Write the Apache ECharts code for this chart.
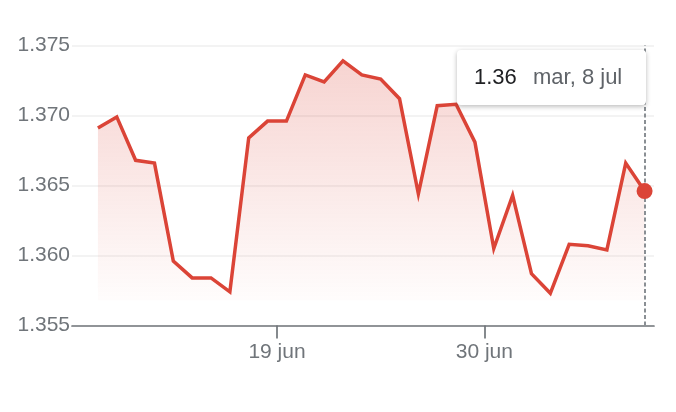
<!DOCTYPE html>
<html>
<head>
<meta charset="utf-8">
<script src="https://cdn.jsdelivr.net/npm/echarts@6/dist/echarts.min.js"></script>
<style>
html,body{margin:0;padding:0;background:#fff;}
#chart{width:676px;height:412px;}
</style>
</head>
<body>
<div id="chart"></div>
<script>
// ---- data ----
var dates = [
  '2025-06-09','2025-06-10','2025-06-11','2025-06-12','2025-06-13','2025-06-14','2025-06-15',
  '2025-06-16','2025-06-17','2025-06-18','2025-06-19','2025-06-20','2025-06-21','2025-06-22',
  '2025-06-23','2025-06-24','2025-06-25','2025-06-26','2025-06-27','2025-06-28','2025-06-29',
  '2025-06-30','2025-07-01','2025-07-02','2025-07-03','2025-07-04','2025-07-05','2025-07-06',
  '2025-07-07','2025-07-08'
];
var values = [
  1.3691, 1.3699, 1.3668, 1.3666, 1.3596, 1.3584, 1.3584,
  1.3574, 1.3684, 1.3696, 1.3696, 1.3729, 1.3724, 1.3739,
  1.3729, 1.3726, 1.3712, 1.3644, 1.3707, 1.3708, 1.3681,
  1.3605, 1.3643, 1.3587, 1.3573, 1.3608, 1.3607, 1.3604,
  1.3666, 1.3646
];
var xTickDates = ['2025-06-19', '2025-06-30'];
var yTicks = [1.355, 1.360, 1.365, 1.370, 1.375];
var monthNames = ['ene','feb','mar','abr','may','jun','jul','ago','sep','oct','nov','dic'];
var dayNames = ['dom','lun','mar','mié','jue','vie','sáb'];

// ---- helpers ----
function dayStart(s){ var p = s.split('-'); return Date.UTC(+p[0], +p[1]-1, +p[2]); }
function pointTime(s){ return dayStart(s) + 12*3600*1000; }
var seriesData = dates.map(function(d, i){ return [pointTime(d), values[i]]; });
var lastIdx = dates.length - 1;
var lastPoint = seriesData[lastIdx];
var lastDate = new Date(dayStart(dates[lastIdx]));
var tipValue = values[lastIdx].toFixed(2);
var tipDate = dayNames[lastDate.getUTCDay()] + ', ' + lastDate.getUTCDate() + ' ' + monthNames[lastDate.getUTCMonth()];

var RED = '#db4437';
var AXIS = '#70757a';
var FONT = '"Liberation Sans", Arial, Helvetica, sans-serif';

var chart = echarts.init(document.getElementById('chart'), null, {renderer: 'canvas'});
chart.setOption({
  animation: false,
  grid: {left: 72, right: 22, top: 45.5, bottom: 86.5, containLabel: false},
  xAxis: {
    type: 'value',
    min: Date.UTC(2025, 5, 8, 3),
    max: Date.UTC(2025, 6, 9, 0),
    axisLine: {show: true, lineStyle: {color: AXIS, width: 1.7}},
    axisTick: {show: true, length: 13, lineStyle: {color: AXIS, width: 1.7},
      customValues: xTickDates.map(dayStart)},
    axisLabel: {
      show: true, margin: 16, fontSize: 21, color: AXIS, fontFamily: FONT,
      customValues: xTickDates.map(dayStart),
      formatter: function(v){ var d = new Date(v); return d.getUTCDate() + ' ' + monthNames[d.getUTCMonth()]; }
    },
    splitLine: {show: false}
  },
  yAxis: {
    type: 'value',
    min: yTicks[0],
    max: yTicks[yTicks.length-1],
    interval: 0.005,
    axisLine: {show: false},
    axisTick: {show: false},
    axisLabel: {margin: 2, fontSize: 21, color: AXIS, fontFamily: FONT,
      formatter: function(v){ return v.toFixed(3); }},
    splitLine: {show: true, lineStyle: {color: '#efefef', width: 1.5}}
  },
  series: [
    {
      type: 'line',
      data: seriesData,
      showSymbol: false,
      symbol: 'none',
      lineStyle: {color: RED, width: 3.5, join: 'miter'},
      emphasis: {disabled: true},
      areaStyle: {
        origin: 1.3568,
        color: new echarts.graphic.LinearGradient(0, 0, 0, 1, [
          {offset: 0, color: 'rgba(219,68,55,0.33)'},
          {offset: 1, color: 'rgba(219,68,55,0.02)'}
        ])
      },
      markLine: {
        silent: true,
        symbol: 'none',
        label: {show: false},
        lineStyle: {color: '#8a8f94', width: 2, type: [4, 2.5]},
        data: [{xAxis: lastPoint[0]}]
      },
      z: 2
    },
    {
      type: 'scatter',
      data: [lastPoint],
      symbol: 'circle',
      symbolSize: 16,
      itemStyle: {color: RED, opacity: 1},
      emphasis: {disabled: true},
      z: 5
    }
  ],
  graphic: [
    {
      type: 'rect', z: 100,
      shape: {x: 457, y: 50, width: 189, height: 55, r: 4},
      style: {fill: '#ffffff', shadowBlur: 5, shadowColor: 'rgba(0,0,0,0.28)', shadowOffsetY: 1.5}
    },
    {
      type: 'text', z: 101, x: 474, y: 78,
      style: {text: tipValue, fill: '#202124', fontSize: 22, fontFamily: FONT, verticalAlign: 'middle', align: 'left'}
    },
    {
      type: 'text', z: 101, x: 533, y: 78,
      style: {text: tipDate, fill: '#5f6368', fontSize: 22, fontFamily: FONT, verticalAlign: 'middle', align: 'left'}
    }
  ]
});
</script>
</body>
</html>
